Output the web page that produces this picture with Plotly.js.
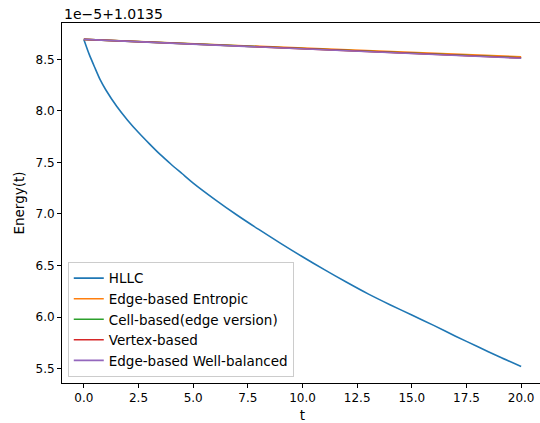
<!DOCTYPE html>
<html>
<head>
<meta charset="utf-8">
<script src="https://cdn.plot.ly/plotly-3.0.1.min.js"></script>
<style>
html,body{margin:0;padding:0;overflow:hidden;background:#fff;width:540px;height:423px;}
#chart{width:546px;height:423px;}
</style>
</head>
<body>
<div id="chart"></div>
<script>
// Energy(t) values shown in offset units: value = y * 1e-5 + 1.0135
const tHLLC = [0,0.25,0.5,0.75,1,1.5,2,2.5,3,3.5,4,4.5,5,6,7,8,9,10,11,12,13,14,15,16,17,18,19,20];
const hllc  = [8.693,8.545,8.42,8.30,8.205,8.045,7.91,7.79,7.68,7.575,7.48,7.39,7.30,7.14,6.99,6.85,6.715,6.585,6.46,6.34,6.225,6.12,6.02,5.92,5.815,5.715,5.615,5.52];

const tOther = [0,5,10,15,20];
const edgeEntropic    = [8.693,8.651,8.609,8.567,8.525];
const cellEdgeVersion = [8.693,8.648,8.605,8.561,8.515];
const vertexBased     = [8.693,8.647,8.604,8.560,8.513];
const edgeWellBal     = [8.693,8.646,8.602,8.557,8.510];

const seriesNames = ["HLLC","Edge-based Entropic","Cell-based(edge version)","Vertex-based","Edge-based Well-balanced"];
const colors = ["#1f77b4","#ff7f0e","#2ca02c","#d62728","#9467bd"];

const xTicks = [0,2.5,5,7.5,10,12.5,15,17.5,20];
const yTicks = [5.5,6.0,6.5,7.0,7.5,8.0,8.5];
const offsetLabel = "1e\u22125+1.0135";

const ys = [hllc, edgeEntropic, cellEdgeVersion, vertexBased, edgeWellBal];
const xs = [tHLLC, tOther, tOther, tOther, tOther];

const traces = ys.map((y,i)=>({
  x: xs[i], y: y, type:'scatter', mode:'lines', name: seriesNames[i],
  line:{color:colors[i], width:1.6, shape: i===0 ? 'spline' : 'linear', smoothing:0.6}
}));

const font = {family:"DejaVu Sans", size:12, color:"#000"};
const legendFont = {family:"DejaVu Sans", size:13.5, color:"#000"};
const titleFont = {family:"DejaVu Sans", size:13.5, color:"#000"};
const offsetFont = {family:"DejaVu Sans", size:14, color:"#000"};
const layout = {
  width:546, height:423,
  margin:{l:62, r:3, t:23, b:40},
  paper_bgcolor:"#fff", plot_bgcolor:"#fff",
  font: font,
  showlegend:true,
  legend:{x:0.012, y:0.017, xanchor:'left', yanchor:'bottom',
    bgcolor:'rgba(255,255,255,0.8)', bordercolor:'#cccccc', borderwidth:1,
    font:legendFont, tracegroupgap:0},
  xaxis:{range:[-1.0,21.0], tickvals:xTicks, tickformat:'.1f',
    showline:true, mirror:true, linecolor:'#000', linewidth:1,
    ticks:'outside', ticklen:4, tickcolor:'#000', showgrid:false, zeroline:false,
    title:{text:'t', font:titleFont, standoff:7}},
  yaxis:{range:[5.361,8.852], tickvals:yTicks, tickformat:'.1f',
    showline:true, mirror:true, linecolor:'#000', linewidth:1,
    ticks:'outside', ticklen:4, tickcolor:'#000', showgrid:false, zeroline:false,
    title:{text:'Energy(t)', font:titleFont, standoff:7}},
  annotations:[{text:offsetLabel, xref:'paper', yref:'paper', x:0, y:1,
    xanchor:'left', yanchor:'bottom', showarrow:false, font:offsetFont, yshift:-1}]
};
Plotly.newPlot('chart', traces, layout, {displayModeBar:false, staticPlot:true});
</script>
</body>
</html>
